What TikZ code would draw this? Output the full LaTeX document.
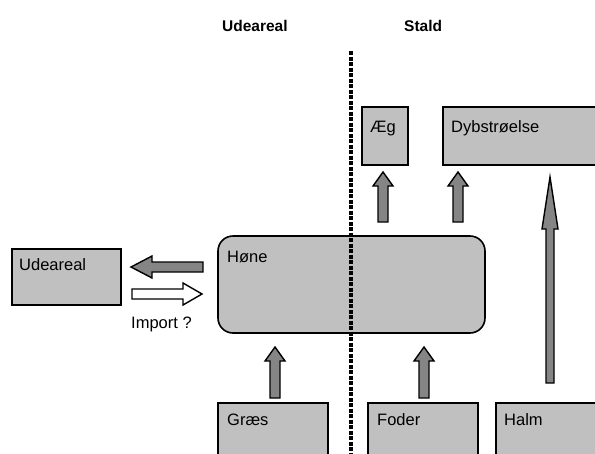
\documentclass[tikz,border=0pt]{standalone}
\usepackage{fontspec}
\setmainfont{Liberation Sans}
\definecolor{boxgray}{HTML}{C0C0C0}
\definecolor{arrgray}{HTML}{858585}
\newcommand\myuparr[3]{% x, tip y, bottom y
  \draw[blk] (#1,#2) -- (#1+10,#2+14) -- (#1+5,#2+14) -- (#1+5,#3) -- (#1-5,#3) -- (#1-5,#2+14) -- (#1-10,#2+14) -- cycle;}
\begin{document}
\begin{tikzpicture}[x=1pt,y=-1pt,
  box/.style={draw=black,line width=1.6pt,fill=boxgray},
  lbl/.style={anchor=base west,inner sep=0pt,font=\fontsize{16.5}{18}\selectfont},
  hdr/.style={anchor=base west,inner sep=0pt,font=\bfseries\fontsize{15.5}{18}\selectfont},
  blk/.style={draw=black,line width=1.4pt,line join=miter,fill=arrgray},
  divider/.style={line width=3.5pt,dash pattern=on 4pt off 1.5pt}]
\useasboundingbox (0,0) rectangle (595,453);
\clip (0,0) rectangle (595,453);
% headers
\node[hdr] (h1) at (222,31) {Udeareal};
\node[hdr] (h2) at (404,31) {Stald};
% boxes
\draw[box] (12,249) rectangle (121,305);
\node[lbl] (ude) at (19,270) {Udeareal};
\draw[box,rounded corners=15pt] (218,236) rectangle (485,333);
\node[lbl] (hone) at (227,262) {Høne};
\draw[box] (362,107) rectangle (408,165);
\node[lbl] (aeg) at (370,132) {Æg};
\draw[box] (443,107) rectangle (605,165);
\node[lbl] (dyb) at (451,132) {Dybstrøelse};
\draw[box] (218,403) rectangle (328,465);
\node[lbl] (graes) at (227,425) {Græs};
\draw[box] (368,403) rectangle (478,465);
\node[lbl] (foder) at (377,425) {Foder};
\draw[box] (496,403) rectangle (605,465);
\node[lbl] (halm) at (504,425) {Halm};
% divider
\coordinate (dtop) at (351,51);
\coordinate (dbot) at (351,460);
\draw[divider] (dtop) -- (dbot);
% horizontal block arrows
\draw[blk] (131,267) -- (152,256) -- (152,262) -- (203,262) -- (203,272) -- (152,272) -- (152,278) -- cycle;
\draw[blk,fill=white] (202,294) -- (183,283) -- (183,289) -- (132,289) -- (132,299) -- (183,299) -- (183,305) -- cycle;
\node[lbl] (imp) at (131,328) {Import ?};
% vertical block arrows
\myuparr{383}{172}{222}
\myuparr{458}{172}{222}
\myuparr{275}{347}{398}
\myuparr{424}{347}{398}
\draw[blk] (550,177) -- (558,229) -- (554,229) -- (554,383) -- (546,383) -- (546,229) -- (542,229) -- cycle;
\end{tikzpicture}
\end{document}
